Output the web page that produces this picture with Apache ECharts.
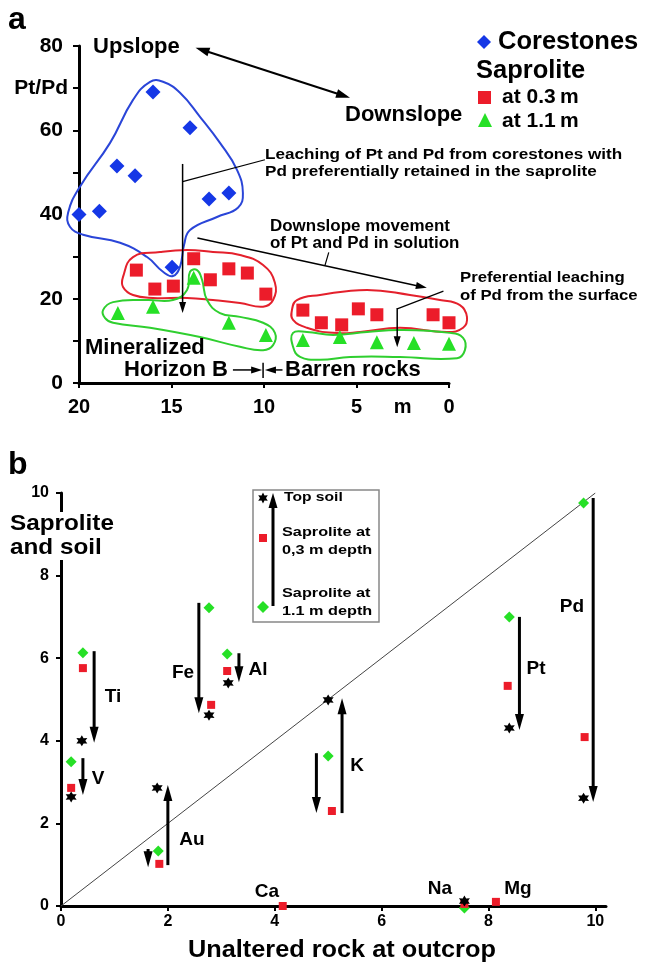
<!DOCTYPE html>
<html>
<head>
<meta charset="utf-8">
<script src="https://cdn.jsdelivr.net/npm/echarts@6/dist/echarts.min.js"></script>
<style>
html, body { margin: 0; background: #fff; }
#container { width: 645px; height: 962px; }
</style>
</head>
<body>
<div id="container"></div>
<script>
var FONT = '"Liberation Sans", Arial, sans-serif';

// ---- panel a : Pt/Pd against distance along slope (m) ----
var corestones = [[20, 40], [18.9, 40.8], [17.95, 51.5], [16.97, 49.2], [16.0, 69.1], [14.0, 60.6], [12.97, 43.7], [11.9, 45.1], [14.97, 27.5]];
var sapA03 = [[16.9, 26.8], [15.9, 22.3], [14.9, 23.0], [13.8, 29.5], [12.9, 24.5], [11.9, 27.1], [10.9, 26.1], [9.9, 21.1],
              [7.9, 17.3], [6.9, 14.3], [5.8, 13.8], [4.9, 17.6], [3.9, 16.2], [0.86, 16.2], [0.0, 14.3]];
var sapA11 = [[17.9, 16.6], [16.0, 18.1], [13.8, 25.0], [11.9, 14.3], [9.9, 11.4],
              [7.9, 10.2], [5.9, 10.9], [3.9, 9.7], [1.9, 9.5], [0.0, 9.3]];

// hand drawn envelopes round the groups
var blueLoop = [[20.59, 40.4], [19.95, 46.6], [18.32, 57.0], [17.08, 67.2], [16.16, 71.5], [15.46, 71.5], [14.54, 68.9], [13.46, 63.2],
                [12.38, 57.0], [11.46, 50.6], [11.14, 45.1], [11.41, 41.6], [12.54, 39.4], [14.0, 36.3], [14.32, 32.8], [14.54, 27.6],
                [14.92, 25.4], [15.46, 26.4], [16.32, 29.9], [17.78, 33.3], [19.78, 35.2], [20.49, 37.1]];
var redLoop1 = [[17.62, 25.2], [17.08, 29.9], [15.62, 31.1], [14.16, 31.6], [12.76, 31.1], [11.3, 30.4], [10.05, 28.0], [9.41, 23.8],
                [9.51, 19.7], [10.05, 18.1], [11.3, 19.0], [12.76, 19.7], [14.16, 20.2], [16.0, 20.2], [17.08, 20.9], [17.62, 22.8]];
var greenLoop1 = [[18.7, 17.3], [18.16, 19.2], [16.32, 19.7], [14.92, 19.7], [14.16, 22.1], [14.0, 26.4], [13.62, 26.8], [13.35, 24.5],
                  [13.08, 19.7], [12.38, 16.6], [11.3, 15.7], [10.05, 14.3], [9.41, 11.9], [9.51, 9.0], [10.05, 7.8], [11.3, 8.6],
                  [13.46, 10.9], [16.16, 13.1], [18.16, 14.3], [18.59, 15.4]];
var redLoop2 = [[8.49, 17.3], [8.22, 19.7], [6.97, 20.9], [4.43, 22.1], [2.11, 20.9], [0.49, 19.7], [-0.59, 18.5], [-0.97, 15.7],
                [-0.76, 13.1], [0.11, 12.1], [2.65, 13.1], [4.81, 12.1], [6.27, 11.9], [7.68, 13.1], [8.43, 15.0]];
var greenLoop2 = [[8.43, 11.9], [7.68, 12.1], [6.27, 11.4], [4.43, 12.1], [2.65, 12.6], [-0.05, 11.9], [-0.76, 10.7], [-0.86, 7.8],
                  [-0.43, 5.9], [2.65, 6.2], [5.35, 6.2], [6.97, 5.5], [8.05, 6.2], [8.43, 8.6]];

// arrows: x1, y1, x2, y2, head at end, head at start
var slopeArrow = [[13.7, 79.6, 5.35, 67.7, 1, 1]];
var arrowsA = [[14.4, 52, 14.4, 16.6, 1, 0], [13.6, 34.4, 1.2, 22.6, 1, 0], [2.8, 17.8, 2.8, 8.5, 1, 0],
               [11.68, 3.1, 10.1, 3.1, 1, 0], [9.0, 3.1, 9.95, 3.1, 1, 0], [10.05, 4.8, 10.05, 1.2, 0, 0]];
var leadersA = [[14.4, 47.8, 9.95, 53.0, 0, 0], [6.7, 28.0, 6.5, 31.0, 0, 0], [2.8, 17.6, 0.3, 21.8, 0, 0]];

// ---- panel b : saprolite and soil against unaltered rock ----
var topSoil = [[0.39, 4.0], [0.19, 2.64], [1.8, 2.86], [2.77, 4.62], [3.13, 5.4], [5.0, 4.99], [8.39, 4.31], [9.78, 2.61], [7.55, 0.12]];
var sapB03 = [[0.41, 5.76], [0.19, 2.86], [1.84, 1.02], [2.81, 4.87], [3.11, 5.69], [5.07, 2.3], [8.36, 5.33], [9.8, 4.09],
              [4.15, 0.0], [7.55, 0.05], [8.14, 0.1]];
var sapB11 = [[0.41, 6.13], [0.19, 3.49], [1.82, 1.33], [2.77, 7.22], [3.11, 6.1], [5.0, 3.63], [8.39, 7.0], [9.78, 9.76], [7.55, -0.05]];
var arrowsB = [[0.62, 6.17, 0.62, 3.95, 1, 0], [0.41, 3.58, 0.41, 2.69, 1, 0], [1.63, 1.38, 1.63, 0.94, 1, 0], [2.0, 0.99, 2.0, 2.93, 1, 0],
               [2.58, 7.34, 2.58, 4.67, 1, 0], [3.33, 6.12, 3.33, 5.42, 1, 0], [4.78, 3.7, 4.78, 2.25, 1, 0], [5.26, 2.25, 5.26, 5.03, 1, 0],
               [8.58, 7.0, 8.58, 4.26, 1, 0], [9.96, 9.88, 9.96, 2.52, 1, 0]];
var oneToOne = [[0, 0], [10, 10]];

var BLUE = '#1537e6', RED = '#ec1c2a', GREEN = '#26e026';

function starPts(cx, cy, r) {
  var pts = [];
  for (var k = 0; k < 12; k++) {
    var a = (-90 + k * 30) * Math.PI / 180;
    var rr = k % 2 ? r * 0.55 : r;
    pts.push([cx + rr * Math.cos(a), cy + rr * Math.sin(a)]);
  }
  return pts;
}
var starSymbol = 'path://' + starPts(50, 50, 50).map(function (p, i) {
  return (i ? 'L' : 'M') + p[0].toFixed(2) + ',' + p[1].toFixed(2);
}).join(' ') + ' Z';

function arrowRender(lw, hw, hl, color) {
  return function (params, api) {
    var a = api.coord([api.value(0), api.value(1)]);
    var b = api.coord([api.value(2), api.value(3)]);
    var dx = b[0] - a[0], dy = b[1] - a[1];
    var len = Math.sqrt(dx * dx + dy * dy);
    var ux = dx / len, uy = dy / len, nx = -uy, ny = ux;
    var s = a.slice(), e = b.slice();
    var kids = [];
    function head(tip, dir) {
      var bx = tip[0] - dir * ux * hl, by = tip[1] - dir * uy * hl;
      return {
        type: 'polygon',
        shape: { points: [tip, [bx + nx * hw / 2, by + ny * hw / 2], [bx - nx * hw / 2, by - ny * hw / 2]] },
        style: { fill: color }
      };
    }
    if (api.value(4)) { e = [b[0] - ux * hl * 0.7, b[1] - uy * hl * 0.7]; kids.push(head(b, 1)); }
    if (api.value(5)) { s = [a[0] + ux * hl * 0.7, a[1] + uy * hl * 0.7]; kids.push(head(a, -1)); }
    kids.unshift({ type: 'line', shape: { x1: s[0], y1: s[1], x2: e[0], y2: e[1] }, style: { stroke: color, lineWidth: lw } });
    return { type: 'group', children: kids };
  };
}

function arrowSeries(data, gi, lw, hw, hl) {
  return {
    type: 'custom', xAxisIndex: gi, yAxisIndex: gi, data: data,
    encode: { x: [0, 2], y: [1, 3] }, renderItem: arrowRender(lw, hw, hl, '#000'),
    silent: true, z: 5
  };
}

// closed smooth outline through the loop points
function loop(data, color) {
  return {
    type: 'custom', xAxisIndex: 0, yAxisIndex: 0, data: data, silent: true, z: 1,
    renderItem: function (params, api) {
      if (params.dataIndex !== 0) return null;
      var pts = data.map(function (p) { return api.coord(p); });
      return { type: 'polygon', shape: { points: pts, smooth: 0.45 }, style: { fill: 'none', stroke: color, lineWidth: 2 } };
    }
  };
}

function txt(x, y, s, size, o) {
  o = o || {};
  return {
    type: 'text', x: x, y: y, z: 100, scaleX: o.sx || 1,
    style: {
      text: s, fontFamily: FONT, fontWeight: 'bold', fontSize: size, fill: '#000',
      textAlign: o.align || 'left', textVerticalAlign: o.va || 'middle',
      lineHeight: o.lh, backgroundColor: o.bg
    }
  };
}

var axisBase = {
  axisLine: { onZero: false, lineStyle: { color: '#000', width: 3 } },
  splitLine: { show: false }
};

var dom = document.getElementById('container');
var myChart = echarts.init(dom);

var option = {
  animation: false,
  backgroundColor: '#fff',
  grid: [
    { left: 79, top: 46, width: 370, height: 337 },
    { left: 61, top: 493, width: 545, height: 413 }
  ],
  xAxis: [
    Object.assign({}, axisBase, {
      type: 'value', gridIndex: 0, min: 0, max: 20, inverse: true,
      axisTick: { customValues: [0, 5, 10, 15, 20], length: 5, lineStyle: { color: '#000', width: 2 } },
      axisLabel: {
        customValues: [0, 2.5, 5, 10, 15, 20], margin: 14, color: '#000', fontFamily: FONT, fontWeight: 'bold', fontSize: 20,
        formatter: function (v) { return v === 2.5 ? 'm' : v; }
      }
    }),
    Object.assign({}, axisBase, {
      type: 'value', gridIndex: 1, min: 0, max: 10.2,
      axisTick: { customValues: [0, 2, 4, 6, 8, 10], length: 5, lineStyle: { color: '#000', width: 2 } },
      axisLabel: { customValues: [0, 2, 4, 6, 8, 10], margin: 8, color: '#000', fontFamily: FONT, fontWeight: 'bold', fontSize: 16 }
    })
  ],
  yAxis: [
    Object.assign({}, axisBase, {
      type: 'value', gridIndex: 0, min: 0, max: 80, interval: 10,
      axisTick: { length: 6, lineStyle: { color: '#000', width: 2 } },
      axisLabel: {
        margin: 11, color: '#000', fontFamily: FONT, fontWeight: 'bold', fontSize: 20,
        formatter: function (v) { return v % 20 === 0 ? '{n|' + v + '}' : (v === 70 ? '{p|Pt/Pd}' : ''); },
        rich: {
          n: { fontFamily: FONT, fontWeight: 'bold', fontSize: 21, color: '#000', padding: [0, 5, 0, 0] },
          p: { fontFamily: FONT, fontWeight: 'bold', fontSize: 21, color: '#000' }
        }
      }
    }),
    Object.assign({}, axisBase, {
      type: 'value', gridIndex: 1, min: 0, max: 10, interval: 2,
      axisTick: { length: 5, lineStyle: { color: '#000', width: 2 } },
      axisLabel: { margin: 12, color: '#000', fontFamily: FONT, fontWeight: 'bold', fontSize: 16 }
    })
  ],
  series: [
    loop(blueLoop, '#2a45d8'),
    loop(redLoop1, '#e4202c'),
    loop(redLoop2, '#e4202c'),
    loop(greenLoop1, '#2fcf2f'),
    loop(greenLoop2, '#2fcf2f'),
    { name: 'Corestones', type: 'scatter', xAxisIndex: 0, yAxisIndex: 0, data: corestones, symbol: 'diamond', symbolSize: 15,
      itemStyle: { color: BLUE, opacity: 1 }, clip: false, z: 3 },
    { name: 'at 0.3 m', type: 'scatter', xAxisIndex: 0, yAxisIndex: 0, data: sapA03, symbol: 'rect', symbolSize: 13,
      itemStyle: { color: RED, opacity: 1 }, clip: false, z: 3 },
    { name: 'at 1.1 m', type: 'scatter', xAxisIndex: 0, yAxisIndex: 0, data: sapA11, symbol: 'triangle', symbolSize: 14,
      itemStyle: { color: GREEN, opacity: 1 }, clip: false, z: 3 },
    arrowSeries(slopeArrow, 0, 2, 9, 14),
    arrowSeries(arrowsA, 0, 1.5, 7, 11),
    arrowSeries(leadersA, 0, 1.2, 0, 0),

    { type: 'line', xAxisIndex: 1, yAxisIndex: 1, data: oneToOne, symbol: 'none',
      lineStyle: { color: '#444', width: 1 }, silent: true, z: 1 },
    { name: 'Saprolite at 1.1 m depth', type: 'scatter', xAxisIndex: 1, yAxisIndex: 1, data: sapB11, symbol: 'diamond', symbolSize: 11,
      itemStyle: { color: GREEN, opacity: 1 }, clip: false, z: 3 },
    { name: 'Saprolite at 0,3 m depth', type: 'scatter', xAxisIndex: 1, yAxisIndex: 1, data: sapB03, symbol: 'rect', symbolSize: 8,
      itemStyle: { color: RED, opacity: 1 }, clip: false, z: 4 },
    { name: 'Top soil', type: 'scatter', xAxisIndex: 1, yAxisIndex: 1, data: topSoil, symbol: starSymbol, symbolSize: 11,
      itemStyle: { color: '#000', opacity: 1 }, clip: false, z: 5 },
    arrowSeries(arrowsB, 1, 3, 9, 16)
  ],
  graphic: [
    txt(8, 20, 'a', 32),
    txt(93, 47, 'Upslope', 22),
    txt(345, 115, 'Downslope', 22),
    { type: 'polygon', z: 100, shape: { points: [[484, 35], [491, 42], [484, 49], [477, 42]] }, style: { fill: BLUE } },
    txt(498, 42, 'Corestones', 25.5),
    txt(476, 71, 'Saprolite', 25.5),
    { type: 'rect', z: 100, shape: { x: 478, y: 91, width: 13, height: 13 }, style: { fill: RED } },
    txt(502, 97, 'at 0.3\u2009m', 21),
    { type: 'polygon', z: 100, shape: { points: [[485, 113], [492, 127], [478, 127]] }, style: { fill: GREEN } },
    txt(502, 121, 'at 1.1\u2009m', 21),
    txt(265, 155, 'Leaching of Pt and Pd from corestones with', 15, { sx: 1.14 }),
    txt(265, 172, 'Pd preferentially retained in the saprolite', 15, { sx: 1.14 }),
    txt(270, 227, 'Downslope movement', 16, { sx: 1.06 }),
    txt(270, 244, 'of Pt and Pd in solution', 16, { sx: 1.06 }),
    txt(460, 278, 'Preferential leaching', 15.5, { sx: 1.08 }),
    txt(460, 296, 'of Pd from the surface', 15.5, { sx: 1.08 }),
    txt(85, 348, 'Mineralized', 22),
    txt(124, 370, 'Horizon B', 22),
    txt(285, 370, 'Barren rocks', 22),

    txt(8, 465, 'b', 32),
    txt(10, 512, 'Saprolite\nand soil', 21.5, { va: 'top', lh: 24, bg: '#fff', sx: 1.13 }),
    { type: 'rect', z: 100, shape: { x: 253, y: 490, width: 126, height: 132 }, style: { fill: 'none', stroke: '#888', lineWidth: 1.5 } },
    { type: 'polygon', z: 100, shape: { points: starPts(263, 498, 5.5) }, style: { fill: '#000' } },
    { type: 'line', z: 100, shape: { x1: 273, y1: 606, x2: 273, y2: 504 }, style: { stroke: '#000', lineWidth: 3 } },
    { type: 'polygon', z: 100, shape: { points: [[273, 493], [277.5, 508], [268.5, 508]] }, style: { fill: '#000' } },
    txt(284, 498, 'Top soil', 12.5, { sx: 1.25 }),
    { type: 'rect', z: 100, shape: { x: 259, y: 534, width: 8, height: 8 }, style: { fill: RED } },
    txt(282, 533, 'Saprolite at', 12.5, { sx: 1.3 }),
    txt(282, 551, '0,3 m depth', 12.5, { sx: 1.3 }),
    { type: 'polygon', z: 100, shape: { points: [[263, 601], [269, 607], [263, 613], [257, 607]] }, style: { fill: GREEN } },
    txt(282, 594, 'Saprolite at', 12.5, { sx: 1.3 }),
    txt(282, 612, '1.1 m depth', 12.5, { sx: 1.3 }),

    txt(113, 697, 'Ti', 19, { align: 'center' }),
    txt(98, 779, 'V', 19, { align: 'center' }),
    txt(192, 840, 'Au', 19, { align: 'center' }),
    txt(183, 673, 'Fe', 19, { align: 'center' }),
    txt(258, 670, 'Al', 19, { align: 'center' }),
    txt(357, 766, 'K', 19, { align: 'center' }),
    txt(536, 669, 'Pt', 19, { align: 'center' }),
    txt(572, 607, 'Pd', 19, { align: 'center' }),
    txt(267, 892, 'Ca', 19, { align: 'center' }),
    txt(440, 889, 'Na', 19, { align: 'center' }),
    txt(518, 889, 'Mg', 19, { align: 'center' }),
    txt(188, 951, 'Unaltered rock at outcrop', 23, { sx: 1.1 })
  ]
};

if (option && typeof option === 'object') {
  myChart.setOption(option, true);
}
</script>
</body>
</html>
